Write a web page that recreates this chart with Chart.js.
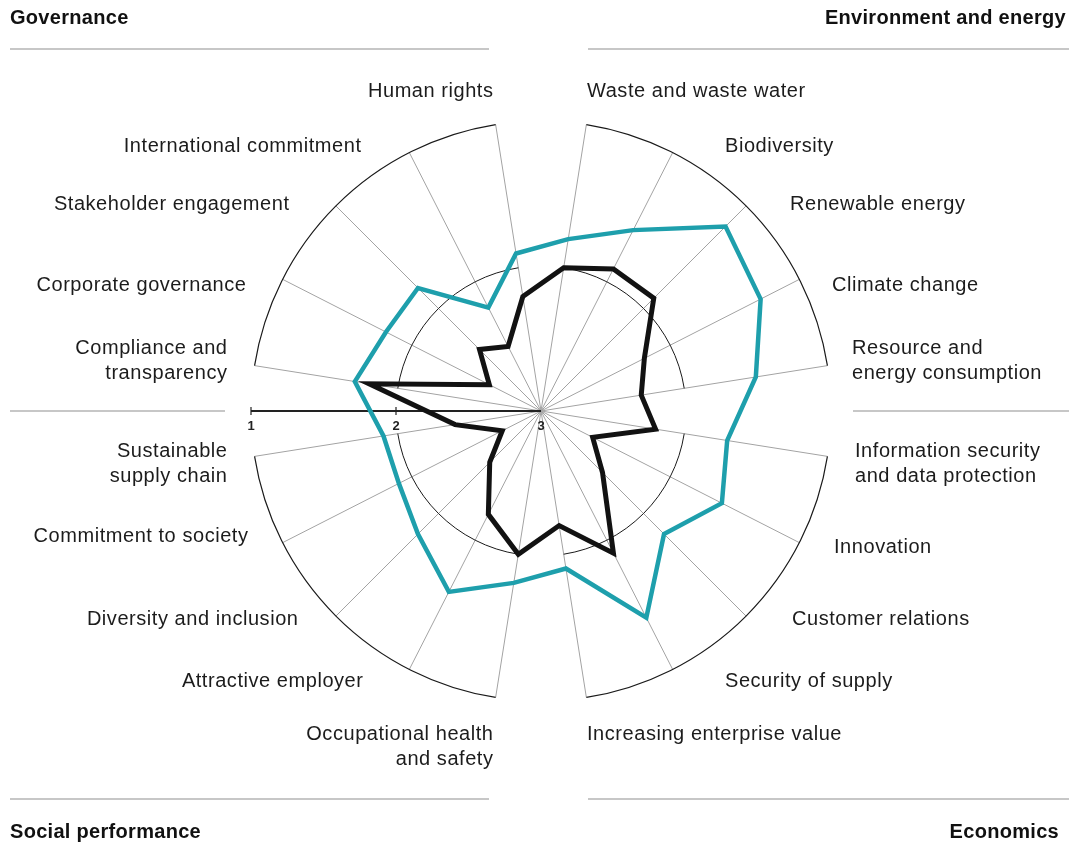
<!DOCTYPE html>
<html>
<head>
<meta charset="utf-8">
<script src="https://cdn.jsdelivr.net/npm/chart.js@4"></script>
<style>
    html, body { margin: 0; padding: 0; background: #fff; }
    #wrap { width: 1069px; height: 843px; }
</style>
</head>
<body>
<div id="wrap"><canvas id="radarChart" width="1069" height="843"></canvas></div>
<script>
// Topics, clockwise from the top (first spoke sits 9° right of north)
const topics = [
    'Waste and waste water', 'Biodiversity', 'Renewable energy', 'Climate change', ['Resource and', 'energy consumption'],
    ['Information security', 'and data protection'], 'Innovation', 'Customer relations', 'Security of supply', 'Increasing enterprise value',
    ['Occupational health', 'and safety'], 'Attractive employer', 'Diversity and inclusion', 'Commitment to society', ['Sustainable', 'supply chain'],
    ['Compliance and', 'transparency'], 'Corporate governance', 'Stakeholder engagement', 'International commitment', 'Human rights'
];
const tealSeries = [1.8, 1.6, 1.2, 1.3, 1.5, 1.7, 1.6, 1.8, 1.4, 1.9, 1.8, 1.6, 1.8, 1.9, 1.9, 1.7, 1.8, 1.8, 2.2, 1.9];
const blackSeries = [2.0, 1.9, 1.9, 2.2, 2.3, 2.2, 2.6, 2.4, 1.9, 2.2, 2.0, 2.2, 2.5, 2.7, 2.4, 1.8, 2.6, 2.4, 2.5, 2.2];
const scaleTicks = [1, 2, 3];
const areaNames = ['Environment and energy', 'Economics', 'Social performance', 'Governance'];

// layout only: label anchors relative to the chart centre (text edge, middle of first line)
const labelAnchors = [
    [46, -321], [184, -266], [249, -208], [291, -127], [311, -64],
    [314, 39], [293, 135], [251, 207], [184, 269], [46, 322],
    [-48, 322], [-178, 269], [-243, 207], [-293, 124], [-314, 39],
    [-314, -64], [-295, -127], [-252, -208], [-180, -266], [-48, -321]
];
// header positions: x, y, align
const areaHeaderPos = [[1066, 18, 'right'], [1059, 832, 'right'], [10, 832, 'left'], [10, 18, 'left']];

const radarDecor = {
    id: 'radarDecor',
    beforeDatasetsDraw(chart) {
        const ctx = chart.ctx;
        const r = chart.scales.r;
        const cx = r.xCenter, cy = r.yCenter;
        ctx.save();
        // ring segments, one per quarter, from its first to last spoke
        ctx.strokeStyle = '#1a1a1a';
        [1, 2].forEach(v => {
            const rad = r.getDistanceFromCenterForValue(v);
            ctx.lineWidth = v === 1 ? 1.2 : 1;
            for (let q = 0; q < 4; q++) {
                const a0 = r.getIndexAngle(q * 5) - Math.PI / 2;
                const a1 = r.getIndexAngle(q * 5 + 4) - Math.PI / 2;
                ctx.beginPath();
                ctx.arc(cx, cy, rad, a0, a1);
                ctx.stroke();
            }
        });
        // value axis to the left
        const xEnd = cx - r.getDistanceFromCenterForValue(scaleTicks[0]);
        ctx.strokeStyle = '#222';
        ctx.lineWidth = 2;
        ctx.beginPath();
        ctx.moveTo(xEnd, cy);
        ctx.lineTo(cx, cy);
        ctx.stroke();
        ctx.lineWidth = 1.2;
        ctx.fillStyle = '#222';
        ctx.font = 'bold 13px "Liberation Sans", Arial, sans-serif';
        ctx.textAlign = 'center';
        ctx.textBaseline = 'middle';
        scaleTicks.forEach(t => {
            const x = cx - r.getDistanceFromCenterForValue(t);
            if (t !== 3) {
                ctx.beginPath();
                ctx.moveTo(x, cy - 4);
                ctx.lineTo(x, cy + 4);
                ctx.stroke();
            }
            ctx.fillText(String(t), x, cy + 15);
        });
        ctx.restore();
    },
    afterDraw(chart) {
        const ctx = chart.ctx;
        const r = chart.scales.r;
        const cx = r.xCenter, cy = r.yCenter;
        ctx.save();
        // separator lines
        ctx.strokeStyle = '#b5b5b5';
        ctx.lineWidth = 1.5;
        const seps = [
            [10, cx - 52, cy - 362], [cx + 47, 1069, cy - 362],
            [10, cx - 316, cy], [cx + 312, 1069, cy],
            [10, cx - 52, cy + 388], [cx + 47, 1069, cy + 388]
        ];
        seps.forEach(s => {
            ctx.beginPath();
            ctx.moveTo(s[0], s[2]);
            ctx.lineTo(s[1], s[2]);
            ctx.stroke();
        });
        // topic labels
        ctx.fillStyle = '#1c1c1c';
        ctx.font = '20px "Liberation Sans", Arial, sans-serif';
        ctx.letterSpacing = '0.55px';
        ctx.textBaseline = 'middle';
        topics.forEach((lbl, i) => {
            const [dx, dy] = labelAnchors[i];
            const lines = Array.isArray(lbl) ? lbl : [lbl];
            ctx.textAlign = dx > 0 ? 'left' : 'right';
            const x = cx + dx + (dx > 0 ? 0 : 0.5);
            lines.forEach((line, k) => ctx.fillText(line, x, cy + dy + 1 + k * 25));
        });
        // area headers
        ctx.fillStyle = '#111';
        ctx.font = 'bold 20px "Liberation Sans", Arial, sans-serif';
        ctx.letterSpacing = '0.3px';
        areaNames.forEach((name, i) => {
            const [x, y, align] = areaHeaderPos[i];
            ctx.textAlign = align;
            ctx.fillText(name, x, y);
        });
        ctx.letterSpacing = '0px';
        ctx.restore();
    }
};

new Chart(document.getElementById('radarChart'), {
    type: 'radar',
    data: {
        labels: topics,
        datasets: [
            {
                label: 'Teal',
                data: tealSeries,
                borderColor: '#1e9fac',
                borderWidth: 4.5,
                borderJoinStyle: 'miter',
                fill: false,
                pointRadius: 0,
                pointHoverRadius: 0
            },
            {
                label: 'Black',
                data: blackSeries,
                borderColor: '#121212',
                borderWidth: 5,
                borderJoinStyle: 'miter',
                fill: false,
                pointRadius: 0,
                pointHoverRadius: 0
            }
        ]
    },
    options: {
        responsive: false,
        animation: false,
        layout: { padding: { left: 13, right: 0, top: 121, bottom: 142 } },
        plugins: { legend: { display: false }, tooltip: { enabled: false } },
        elements: { line: { tension: 0 } },
        scales: {
            r: {
                min: 1,
                max: 3,
                reverse: true,
                startAngle: 9,
                ticks: { display: false, stepSize: 1 },
                grid: { display: false },
                angleLines: { display: true, color: '#a3a3a3', lineWidth: 1 },
                pointLabels: { display: false }
            }
        }
    },
    plugins: [radarDecor]
});
</script>
</body>
</html>
